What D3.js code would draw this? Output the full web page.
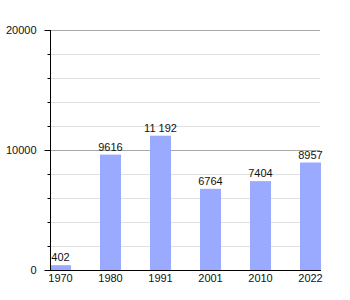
<!DOCTYPE html>
<html>
<head>
<meta charset="utf-8">
<script src="https://cdn.jsdelivr.net/npm/d3@7"></script>
<style>
  body { margin: 0; background: #fff; }
  text { font-family: "Liberation Sans", Arial, sans-serif; font-size: 11px; fill: #111; }
</style>
</head>
<body>
<script>
// population by census year
const years = ["1970", "1980", "1991", "2001", "2010", "2022"];
const population = [402, 9616, 11192, 6764, 7404, 8957];
const yLabels = [0, 10000, 20000];
const gridValues = d3.range(2000, 20001, 2000);

const w = 350, h = 300;
const padL = 50, padR = 321, padT = 30, padB = 270;

const svg = d3.select("body").append("svg")
  .attr("width", w)
  .attr("height", h);

const x = d3.scaleBand()
  .domain(years)
  .range([padL, padR])
  .paddingInner(0.58)
  .paddingOuter(0);

const y = d3.scaleLinear()
  .domain([0, 20000])
  .range([padB, padT]);

// gridlines
svg.append("g").selectAll("line")
  .data(gridValues)
  .enter().append("line")
  .attr("x1", padL)
  .attr("x2", 320)
  .attr("y1", d => Math.round(y(d)) + 0.5)
  .attr("y2", d => Math.round(y(d)) + 0.5)
  .attr("stroke", d => d % 10000 == 0 ? "#aaaaaa" : "#e0e0e0")
  .attr("stroke-width", 1);

// bars
svg.append("g").selectAll("rect")
  .data(population)
  .enter().append("rect")
  .attr("x", (d, i) => x(years[i]))
  .attr("y", d => y(d))
  .attr("width", x.bandwidth())
  .attr("height", d => padB - y(d))
  .style("fill", "#99aaff");

// value labels
let fmt = v => v >= 10000 ? d3.format(",")(v).replace(",", " ") : String(v);
svg.append("g").selectAll("text")
  .data(population)
  .enter().append("text")
  .attr("x", (d, i) => x(years[i]) + x.bandwidth() / 2)
  .attr("y", d => y(d) - 4)
  .attr("text-anchor", "middle")
  .text(d => fmt(d));

// y axis: minor ticks
const yMinor = d3.axisLeft(y)
  .tickValues(gridValues.filter(d => d % 10000 != 0))
  .tickSize(3)
  .tickFormat("");
svg.append("g")
  .attr("transform", "translate(" + (padL + 0.5) + ",0)")
  .call(yMinor)
  .call(g => g.select(".domain").remove())
  .selectAll("line").attr("stroke", "#000");

// y axis: major ticks with labels
const yAxis = d3.axisLeft(y)
  .tickValues(yLabels)
  .tickSize(6)
  .tickPadding(8)
  .tickFormat(d3.format("d"));
svg.append("g")
  .attr("transform", "translate(" + (padL + 0.5) + ",0)")
  .call(yAxis)
  .call(g => g.select(".domain").attr("d", "M0," + padT + "V" + padB).attr("stroke", "#000"))
  .call(g => g.selectAll("text").style("font-size", null).attr("font-family", null))
  .selectAll("line").attr("stroke", "#000");

// x axis
const xAxis = d3.axisBottom(x)
  .tickSize(0)
  .tickPadding(4);
svg.append("g")
  .attr("transform", "translate(0," + (padB + 0.5) + ")")
  .call(xAxis)
  .call(g => g.select(".domain").attr("d", "M" + padL + ",0H" + padR).attr("stroke", "#000"))
  .call(g => g.selectAll("text").style("font-size", null).attr("font-family", null));
</script>
</body>
</html>
